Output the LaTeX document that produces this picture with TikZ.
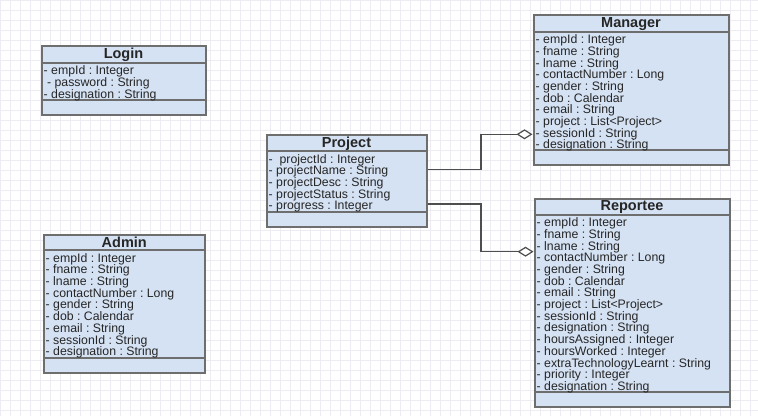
\documentclass[tikz,border=0pt]{standalone}
\usepackage{fontspec}
\setmainfont{Liberation Sans}
\usetikzlibrary{arrows.meta}
\frenchspacing
\definecolor{classfill}{HTML}{D5E2F3}
\definecolor{classborder}{HTML}{6E6E6E}
\definecolor{gridcol}{HTML}{ECECF2}
\definecolor{linecol}{HTML}{4E4E4E}
\definecolor{txtcol}{HTML}{262626}
\tikzset{
  classbox/.style={draw=classborder, fill=classfill, line width=2pt, inner sep=0pt},
  divider/.style={draw=classborder, line width=2pt},
  titletext/.style={font={\fontsize{14.5}{16}\selectfont\bfseries}, text=txtcol, inner sep=0pt},
  attrtext/.style={font={\fontsize{12.3}{11.7}\selectfont\frenchspacing}, text=txtcol, inner sep=0pt, align=left, anchor=north west},
  assoc/.style={draw=linecol, line width=1.5pt, -{Diamond[fill=white, length=16pt, width=10pt, line width=1.2pt]}},
}
\newcommand\umlclass[9]{%
  \node[classbox, minimum width={(#4-#2)*1pt}, minimum height={(#7-#3)*1pt}] (#1) at ({(#2+#4)/2},{(#3+#7)/2}) {};
  \draw[divider] (#2,#5) -- (#4,#5);
  \draw[divider] (#2,#6) -- (#4,#6);
  \node[titletext] (#1-title) at ({(#2+#4)/2},{(#3+#5)/2+0.5}) {#8};
  \node[attrtext] (#1-attrs) at (#2+2,#5+3) {#9};
}
\begin{document}
\begin{tikzpicture}[x=1pt, y=-1pt]
\useasboundingbox (0,0) rectangle (758,416);
\fill[white] (0,0) rectangle (758,416);
\draw[gridcol, line width=0.5pt, step=10pt] (0,0) grid (758,416);

\umlclass{login}{41.5}{45.5}{205.5}{62.5}{100}{115}{Login}{%
- empId : Integer\\
 \ - password : String\\
- designation : String}

\umlclass{admin}{43.5}{234.5}{205}{250}{357.5}{372.5}{Admin}{%
- empId : Integer\\
- fname : String\\
- lname : String\\
- contactNumber : Long\\
- gender : String\\
- dob : Calendar\\
- email : String\\
- sessionId : String\\
- designation : String}

\umlclass{project}{266.5}{134.5}{426.5}{151}{211.5}{226.5}{Project}{%
-\ \ projectId : Integer\\
- projectName : String\\
- projectDesc : String\\
- projectStatus : String\\
- progress : Integer}

\umlclass{manager}{533.5}{15}{728.5}{31.5}{150}{165}{Manager}{%
- empId : Integer\\
- fname : String\\
- lname : String\\
- contactNumber : Long\\
- gender : String\\
- dob : Calendar\\
- email : String\\
- project : List<Project>\\
- sessionId : String\\
- designation : String}

\umlclass{reportee}{534.5}{198.5}{729.5}{214.5}{391.5}{406.5}{Reportee}{%
- empId : Integer\\
- fname : String\\
- lname : String\\
- contactNumber : Long\\
- gender : String\\
- dob : Calendar\\
- email : String\\
- project : List<Project>\\
- sessionId : String\\
- designation : String\\
- hoursAssigned : Integer\\
- hoursWorked : Integer\\
- extraTechnologyLearnt : String\\
- priority : Integer\\
- designation : String}

\coordinate (pm) at ([yshift=11.2pt]project.east);
\coordinate (pr) at ([yshift=-23.5pt]project.east);
\coordinate (mi) at ([yshift=-44.3pt]manager.west);
\coordinate (ri) at ([yshift=50.8pt]reportee.west);
\coordinate (bendm) at (481,169.3);
\coordinate (bendr) at (481,204);
\draw[assoc] (pm) -- (bendm) |- (mi);
\draw[assoc] (pr) -- (bendr) |- (ri);
\end{tikzpicture}
\end{document}
